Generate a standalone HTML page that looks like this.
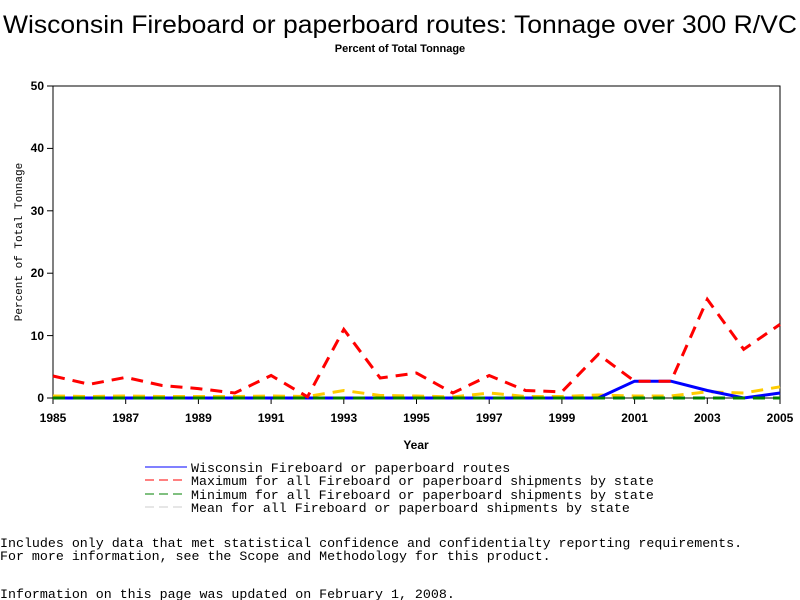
<!DOCTYPE html>
<html><head><style>
body{margin:0;background:#fff;width:800px;height:600px;overflow:hidden}
svg{display:block}
text{font-family:"Liberation Sans",sans-serif}
text.m,.m text{font-family:"Liberation Mono",monospace;font-size:13.3px}
</style></head><body>
<svg width="800" height="600" xmlns="http://www.w3.org/2000/svg">
<text x="400" y="33" font-size="25" text-anchor="middle" textLength="794" lengthAdjust="spacingAndGlyphs">Wisconsin Fireboard or paperboard routes: Tonnage over 300 R/VC</text>
<text x="400" y="52" font-size="11" font-weight="bold" text-anchor="middle">Percent of Total Tonnage</text>
<rect x="53" y="86" width="727" height="312" fill="none" stroke="#000"/>
<g stroke="#000">
<line x1="47" y1="398" x2="53" y2="398"/><line x1="47" y1="335.6" x2="53" y2="335.6"/><line x1="47" y1="273.2" x2="53" y2="273.2"/><line x1="47" y1="210.8" x2="53" y2="210.8"/><line x1="47" y1="148.4" x2="53" y2="148.4"/><line x1="47" y1="86" x2="53" y2="86"/>
<line x1="53" y1="398" x2="53" y2="404"/><line x1="125.7" y1="398" x2="125.7" y2="404"/><line x1="198.4" y1="398" x2="198.4" y2="404"/><line x1="271.1" y1="398" x2="271.1" y2="404"/><line x1="343.8" y1="398" x2="343.8" y2="404"/><line x1="416.5" y1="398" x2="416.5" y2="404"/><line x1="489.2" y1="398" x2="489.2" y2="404"/><line x1="561.9" y1="398" x2="561.9" y2="404"/><line x1="634.6" y1="398" x2="634.6" y2="404"/><line x1="707.3" y1="398" x2="707.3" y2="404"/><line x1="780" y1="398" x2="780" y2="404"/>
</g>
<g font-size="12" font-weight="bold" text-anchor="end">
<text x="44" y="402">0</text><text x="44" y="340">10</text><text x="44" y="277">20</text><text x="44" y="215">30</text><text x="44" y="152">40</text><text x="44" y="90">50</text>
</g>
<g font-size="12" font-weight="bold" text-anchor="middle">
<text x="53" y="422">1985</text><text x="125.7" y="422">1987</text><text x="198.4" y="422">1989</text><text x="271.1" y="422">1991</text><text x="343.8" y="422">1993</text><text x="416.5" y="422">1995</text><text x="489.2" y="422">1997</text><text x="561.9" y="422">1999</text><text x="634.6" y="422">2001</text><text x="707.3" y="422">2003</text><text x="780" y="422">2005</text>
<text x="416" y="449">Year</text>
</g>
<text class="m" transform="translate(22,242) rotate(-90)" text-anchor="middle" style="font-size:11px">Percent of Total Tonnage</text>
<polyline fill="none" stroke="#ffcc00" stroke-width="3" stroke-dasharray="12,8" points="53,396 89.4,396.5 125.7,396 162.1,396.5 198.4,396.5 234.8,396.5 271.1,396 307.5,396.5 343.8,390.5 380.2,395.5 416.5,396 452.9,397 489.2,393 525.6,396.5 561.9,396.5 598.3,395 634.6,396 671,396 707.3,391.8 743.7,393 780,386.8"/>
<polyline fill="none" stroke="#0000ff" stroke-width="3" points="53,398 89.4,398 125.7,398 162.1,398 198.4,398 234.8,398 271.1,398 307.5,398 343.8,398 380.2,398 416.5,398 452.9,398 489.2,398 525.6,398 561.9,398 598.3,398 634.6,381.2 671,381.2 707.3,390.5 743.7,398 780,393"/>
<polyline fill="none" stroke="#008000" stroke-width="3" stroke-dasharray="12,8" points="53,398 780,398"/>
<polyline fill="none" stroke="#ff0000" stroke-width="3" stroke-dasharray="12,8" points="53,376 89.4,384.3 125.7,377.4 162.1,385.5 198.4,388.6 234.8,393 271.1,375.5 307.5,396.8 343.8,329.4 380.2,378 416.5,373 452.9,393 489.2,375.5 525.6,390.5 561.9,391.8 598.3,354.3 634.6,381.2 671,381.2 707.3,299.4 743.7,349.3 780,324.4"/>
<g class="m">
<line x1="145" y1="467" x2="187" y2="467" stroke="#0000ff"/>
<text x="191" y="472">Wisconsin Fireboard or paperboard routes</text>
<line x1="145" y1="480" x2="187" y2="480" stroke="#ff0000" stroke-dasharray="9,5"/>
<text x="191" y="485">Maximum for all Fireboard or paperboard shipments by state</text>
<line x1="145" y1="494" x2="187" y2="494" stroke="#008000" stroke-dasharray="9,5"/>
<text x="191" y="499">Minimum for all Fireboard or paperboard shipments by state</text>
<line x1="145" y1="507" x2="187" y2="507" stroke="#ccc" stroke-dasharray="9,5"/>
<text x="191" y="512">Mean for all Fireboard or paperboard shipments by state</text>
<text x="0" y="547">Includes only data that met statistical confidence and confidentialty reporting requirements.</text>
<text x="0" y="560">For more information, see the Scope and Methodology for this product.</text>
<text x="0" y="598">Information on this page was updated on February 1, 2008.</text>
</g>
</svg>
</body></html>
